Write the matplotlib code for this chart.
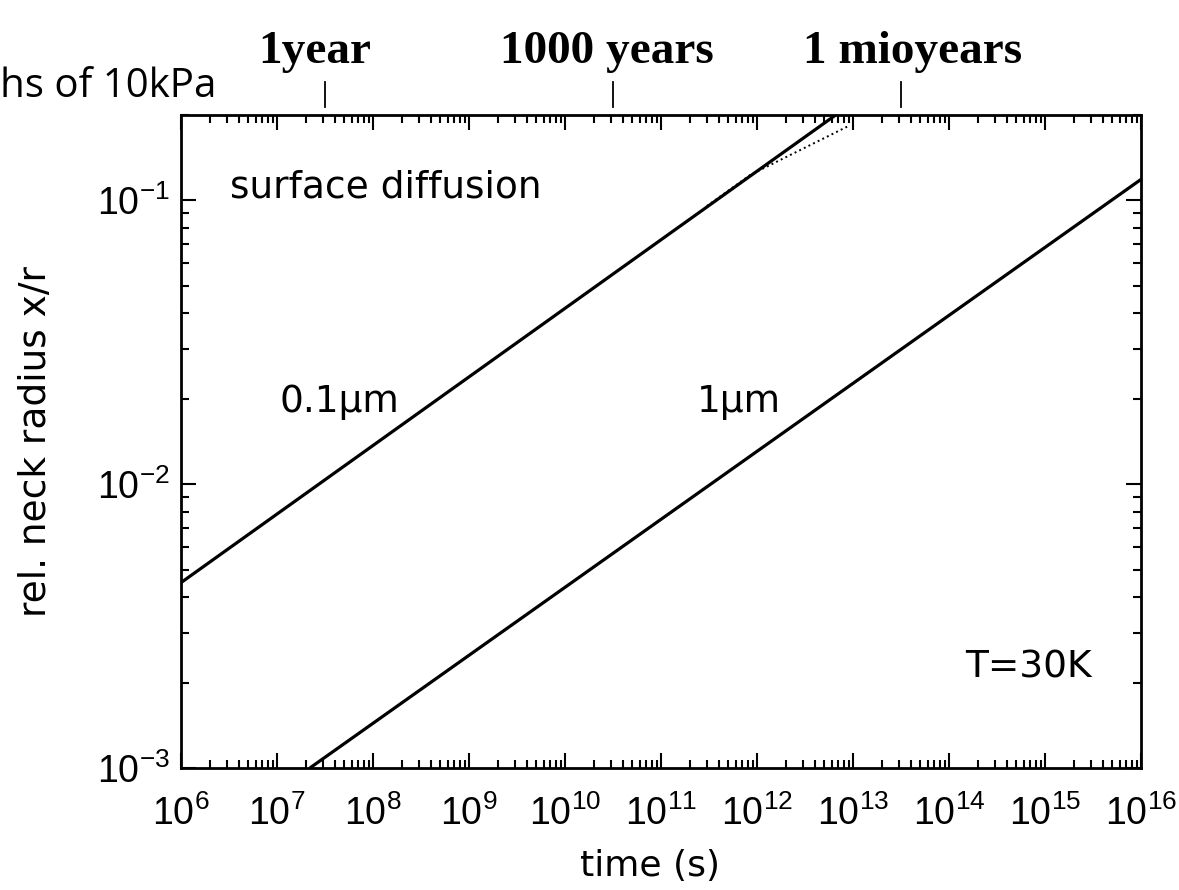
import matplotlib.pyplot as plt
from matplotlib.ticker import LogLocator, NullFormatter

plt.rcParams['font.family'] = ['Liberation Sans', 'DejaVu Sans']
plt.rcParams['mathtext.default'] = 'regular'

# neck radius vs time: end points of the straight log-log lines
t_01um = [1e6, 6.6e12]
xr_01um = [4.5e-3, 0.2]
t_1um = [2.2e7, 1e16]
xr_1um = [1e-3, 0.1186]
# dotted branch bending away from the 0.1um line near the top
t_01um_dot = [3e11, 8.5e11, 9.3e12]
xr_01um_dot = [0.0955, 0.123, 0.184]

year = 3.156e7
time_marks = [year, 1e3 * year, 1e6 * year]
time_mark_labels = ['1year', '1000 years', '1 mioyears']

x_exps = list(range(6, 17))
y_exps = [-3, -2, -1]

fig = plt.figure(figsize=(11.79, 8.9), dpi=100)
ax = fig.add_axes([181 / 1179, 1 - 768 / 890, 960 / 1179, 653 / 890])

ax.plot(t_01um, xr_01um, color='black', lw=2.3, solid_capstyle='butt')
ax.plot(t_1um, xr_1um, color='black', lw=2.3, solid_capstyle='butt')
ax.plot(t_01um_dot, xr_01um_dot, color='black', lw=1.4, ls=':')

ax.set_xscale('log')
ax.set_yscale('log')
ax.set_xlim(1e6, 1e16)
ax.set_ylim(1e-3, 0.2)

ax.set_xticks([10.0 ** e for e in x_exps])
ax.set_xticklabels(['$10^{%d}$' % e for e in x_exps])
ax.set_yticks([10.0 ** e for e in y_exps])
ax.set_yticklabels(['$10^{%d}$' % e for e in y_exps])
ax.xaxis.set_minor_locator(LogLocator(base=10, subs=range(2, 10), numticks=100))
ax.yaxis.set_minor_locator(LogLocator(base=10, subs=range(2, 10), numticks=100))
ax.xaxis.set_minor_formatter(NullFormatter())
ax.yaxis.set_minor_formatter(NullFormatter())

ax.tick_params(which='both', direction='in', top=True, right=True, width=1.5)
ax.tick_params(which='major', length=11)
ax.tick_params(which='minor', length=6)
ax.tick_params(axis='x', which='major', labelsize=27, pad=20)
ax.tick_params(axis='y', which='major', labelsize=27, pad=8)
for sp in ax.spines.values():
    sp.set_linewidth(2.0)

ax.set_xlabel('time (s)', family='DejaVu Sans', fontsize=26, va='top')
ax.xaxis.set_label_coords(0.4885, -0.124)
ax.set_ylabel('rel. neck radius x/r', family='DejaVu Sans', fontsize=27)
ax.yaxis.set_label_coords(-0.132, 0.5)

txt = dict(transform=ax.transAxes, family='DejaVu Sans', fontsize=27,
           va='baseline', ha='left')
ax.text(0.051, 0.874, 'surface diffusion', **txt)
ax.text(0.103, 0.545, '0.1\u03bcm', **txt)
ax.text(0.5375, 0.545, '1\u03bcm', **txt)
ax.text(0.817, 0.138, 'T=30K', **txt)

# time marks above the frame
trans = ax.get_xaxis_transform()
label_shift = [-10, -6, 12]
for t, lab, dx in zip(time_marks, time_mark_labels, label_shift):
    ax.plot([t, t], [1.0122, 1.0505], color='black', lw=1.3,
            transform=trans, clip_on=False)
    ax.annotate(lab, xy=(t, 1.0796), xycoords=trans,
                xytext=(dx * 0.72, 0), textcoords='offset points',
                ha='center', va='baseline',
                family='Liberation Serif', weight='bold', fontsize=34)

fig.text(0.0, 1 - 97 / 890, 'hs of 10kPa', family='Open Sans',
         fontsize=29, va='baseline', ha='left')

fig.savefig('out.png', dpi=100)
